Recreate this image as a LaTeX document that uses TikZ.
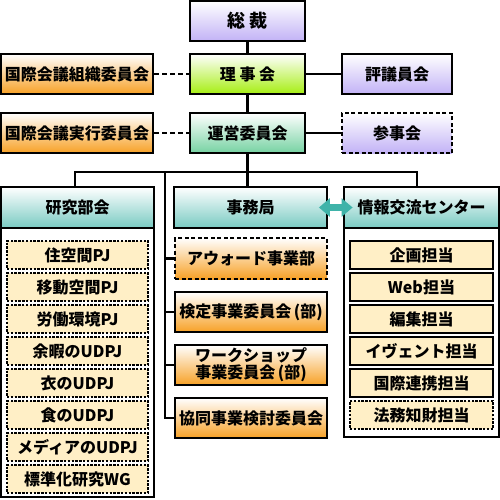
\documentclass[tikz,border=0pt]{standalone}
\usepackage{fontspec}
\setmainfont{Noto Sans CJK JP}
\usetikzlibrary{arrows.meta}
\definecolor{lavender}{HTML}{C2B2F6}
\definecolor{limegreen}{HTML}{A6EE12}
\definecolor{mintgreen}{HTML}{76D2A2}
\definecolor{orangefill}{HTML}{F7A126}
\definecolor{headteal}{HTML}{78CAC2}
\definecolor{cream}{HTML}{FFEFC6}
\definecolor{linkteal}{HTML}{3FB3A9}
\tikzset{
    orgbox/.style={draw, line width=2.8pt, inner sep=0pt, minimum height=40pt,
        font=\bfseries\fontsize{16}{18}\selectfont, align=center},
    lavbox/.style={orgbox, top color=white, bottom color=lavender},
    limebox/.style={orgbox, top color=white, bottom color=limegreen},
    mintbox/.style={orgbox, top color=white, bottom color=mintgreen},
    orangebox/.style={orgbox, top color=white, bottom color=orangefill},
    headbox/.style={orgbox, minimum height=41pt, top color=white, bottom color=headteal},
    framebox/.style={draw, line width=2.8pt, fill=white, inner sep=0pt},
    itembox/.style={draw, line width=2.6pt, fill=cream, inner sep=0pt,
        minimum height=28pt, font=\bfseries\fontsize{16}{18}\selectfont},
    dotbox/.style={itembox, line width=1.8pt, dash pattern=on 2.4pt off 1.4pt},
    conn/.style={line width=2.6pt},
    dashconn/.style={line width=2.6pt, dash pattern=on 5pt off 3pt},
}
\begin{document}
\begin{tikzpicture}[x=1pt, y=-1pt]
    \useasboundingbox (0,0) rectangle (500,500);
    \node[lavbox, minimum width=115pt, font=\bfseries\fontsize{18}{20}\selectfont]
        (sosai) at (247.5,21) {総\ 裁};
    \node[limebox, minimum width=115pt] (riji) at (247.5,74) {理\ 事\ 会};
    \node[mintbox, minimum width=115pt] (unei) at (247.5,133) {運営委員会};
    \node[orangebox, minimum width=152pt] (soshiki) at (77,74) {国際会議組織委員会};
    \node[orangebox, minimum width=152pt] (jikko) at (77,133) {国際会議実行委員会};
    \node[lavbox, minimum width=110pt] (hyogi) at (397,74) {評議員会};
    \node[lavbox, minimum width=110pt, dash pattern=on 4pt off 2.5pt]
        (sanji) at (397,133) {参事会};
    \draw[conn] (sosai) -- (riji);
    \draw[conn] (riji) -- (unei);
    \draw[conn] (riji) -- (hyogi);
    \draw[conn] (unei) -- (sanji);
    \draw[dashconn] (soshiki) -- (riji);
    \draw[dashconn] (jikko) -- (unei);

    \node[framebox, minimum width=153pt, minimum height=310pt] (kenkyu) at (77.5,342) {};
    \node[headbox, minimum width=153pt] (kenkyuhead) at (77.5,207.5) {研究部会};
    \node[framebox, minimum width=155pt, minimum height=250pt] (joho) at (421.5,312) {};
    \node[headbox, minimum width=155pt] (johohead) at (421.5,207.5) {情報交流センター};
    \node[headbox, minimum width=153pt] (jimuhead) at (250.5,207.5) {事務局};

    \foreach \txt [count=\i] in {住空間PJ, 移動空間PJ, 労働環境PJ, 余暇のUDPJ,
        衣のUDPJ, 食のUDPJ, メディアのUDPJ, 標準化研究WG}{
        \node[dotbox, minimum width=141pt] (pj\i) at (77.5,223+32*\i) {\txt};
    }
    \foreach \txt [count=\i] in {企画担当, Web担当, 編集担当, イヴェント担当, 国際連携担当}{
        \node[itembox, minimum width=143pt] (tanto\i) at (421.5,223+32*\i) {\txt};
    }
    \node[dotbox, minimum width=143pt] (tanto6) at (421.5,415) {法務知財担当};

    \node[orangebox, minimum width=152pt, minimum height=41pt,
        dash pattern=on 4pt off 2.5pt] (award) at (251,258.5) {アウォード事業部};
    \node[orangebox, minimum width=152pt] (kentei) at (251,312) {検定事業委員会\,(部)};
    \node[orangebox, minimum width=152pt, font=\bfseries\fontsize{16}{17}\selectfont]
        (workshop) at (251,365) {ワークショップ\\事業委員会\,(部)};
    \node[orangebox, minimum width=152pt] (kyodo) at (251,418) {協同事業検討委員会};

    \coordinate (trunk) at (165,172);
    \draw[conn] ([xshift=-2.5pt]kenkyuhead.north) |- (trunk) -| ([xshift=-4.5pt]johohead.north);
    \draw[conn] (unei.south) -- (unei.south |- jimuhead.north);
    \draw[conn] (trunk) |- (kyodo.west);
    \foreach \nm in {award, kentei, workshop}{
        \draw[conn] (\nm.west) -- (\nm.west -| trunk);
    }
    \draw[linkteal, line width=7pt,
        {Triangle[width=18pt, length=11pt]}-{Triangle[width=18pt, length=11pt]}]
        ([xshift=-9.5pt]jimuhead.east) -- ([xshift=10pt]johohead.west);
\end{tikzpicture}
\end{document}
